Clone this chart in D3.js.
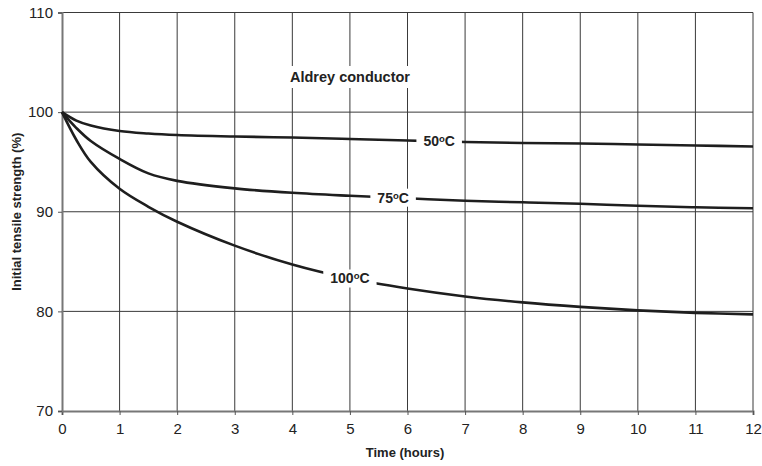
<!DOCTYPE html>
<html><head><meta charset="utf-8">
<script src="https://cdn.jsdelivr.net/npm/d3@7"></script>
<style>body{margin:0;background:#fff}svg{display:block;font-family:"Liberation Sans",Arial,sans-serif}</style>
</head><body><svg id="c" width="762" height="466"></svg>
<script>
const times = [0, 0.25, 0.5, 1, 1.5, 2, 3, 4, 5, 6, 7, 8, 9, 10, 11, 12];
const s50  = [100, 99.15, 98.65, 98.1, 97.85, 97.7, 97.55, 97.45, 97.3, 97.15, 97.0, 96.9, 96.85, 96.75, 96.65, 96.55];
const s75  = [100, 98.4, 97.1, 95.3, 93.85, 93.1, 92.35, 91.9, 91.6, 91.35, 91.1, 90.95, 90.8, 90.6, 90.45, 90.35];
const s100 = [100, 97.2, 95.0, 92.3, 90.5, 89.0, 86.6, 84.7, 83.3, 82.3, 81.5, 80.9, 80.45, 80.1, 79.85, 79.7];
const seriesNames = ["50", "75", "100"];
const labelTimes = [6.55, 5.75, 5.0];
const xTicks = [0,1,2,3,4,5,6,7,8,9,10,11,12];
const yTicks = [70,80,90,100,110];
const title = "Aldrey conductor";
const xTitle = "Time (hours)";
const yTitle = "Initial tensile strength (%)";

const svg = d3.select("#c");
const m = {l:62, r:9, t:12.5, b:55};
const W = 762, H = 466;
const x = d3.scaleLinear().domain([0,12]).range([m.l, W-m.r]);
const y = d3.scaleLinear().domain([70,110]).range([H-m.b, m.t]);

// gridlines
const g = svg.append("g");
g.selectAll(".vg").data(xTicks.slice(1)).join("line")
  .attr("x1", d=>x(d)).attr("x2", d=>x(d)).attr("y1", y(70)).attr("y2", y(110))
  .attr("stroke", "#3a3a3a").attr("stroke-width", 1);
g.selectAll(".hg").data(yTicks.slice(1)).join("line")
  .attr("x1", x(0)).attr("x2", x(12)).attr("y1", d=>y(d)).attr("y2", d=>y(d))
  .attr("stroke", "#3a3a3a").attr("stroke-width", 1);

// title with white background
const tt = svg.append("text").attr("x", 350).attr("y", 82).attr("text-anchor","middle")
  .attr("font-size", 14.5).attr("font-weight","bold").attr("fill","#222").text(title);
const tb = tt.node().getBBox();
svg.insert("rect", "text").attr("x", tb.x-4).attr("y", tb.y-3).attr("width", tb.width+8).attr("height", tb.height+6).attr("fill","#fff");

// axes
const xa = svg.append("g").attr("transform", `translate(0,${y(70)})`)
  .call(d3.axisBottom(x).tickValues(xTicks).tickSize(4).tickPadding(8).tickFormat(d3.format("d")));
const ya = svg.append("g").attr("transform", `translate(${x(0)},0)`)
  .call(d3.axisLeft(y).tickValues(yTicks).tickSize(4).tickPadding(5).tickFormat(d3.format("d")));
[xa, ya].forEach(a => {
  a.select(".domain").attr("stroke", "#777").attr("stroke-width", 2);
  a.selectAll(".tick line").attr("stroke", "#555");
  a.selectAll(".tick text").attr("font-size", 15).attr("fill", "#222")
    .attr("font-family", '"Liberation Sans",Arial,sans-serif');
});

// curves
const line = d3.line().x(d=>x(d[0])).y(d=>y(d[1])).curve(d3.curveCatmullRom.alpha(0.5));
const all = [s50, s75, s100];
all.forEach(s => {
  svg.append("path").datum(times.map((t,i)=>[t, s[i]])).attr("d", line)
    .attr("fill","none").attr("stroke","#1e1e1e").attr("stroke-width", 2.6);
});

// labels
all.forEach((s, k) => {
  const t = labelTimes[k];
  const i = d3.bisectLeft(times, t);
  const v = s[i-1] + (s[i]-s[i-1])*(t-times[i-1])/(times[i]-times[i-1]);
  const lab = svg.append("text").attr("x", x(t)).attr("y", y(v)+5).attr("text-anchor","middle")
    .attr("font-size", 14).attr("font-weight","bold").attr("fill","#222");
  lab.append("tspan").text(seriesNames[k]);
  lab.append("tspan").attr("font-size", 9.5).attr("dy", -4).text("o");
  lab.append("tspan").attr("dy", 4).text("C");
  const b = lab.node().getBBox();
  svg.insert("rect", () => lab.node()).attr("x", b.x-7).attr("y", b.y-1).attr("width", b.width+14).attr("height", b.height+2).attr("fill","#fff");
});

// axis titles
svg.append("text").attr("x", 405).attr("y", 457).attr("text-anchor","middle")
  .attr("font-size", 13).attr("font-weight","bold").attr("fill","#222").text(xTitle);
svg.append("text").attr("transform", `translate(21,${y(90)}) rotate(-90)`).attr("text-anchor","middle")
  .attr("font-size", 13).attr("font-weight","bold").attr("fill","#222").text(yTitle);
</script></body></html>
